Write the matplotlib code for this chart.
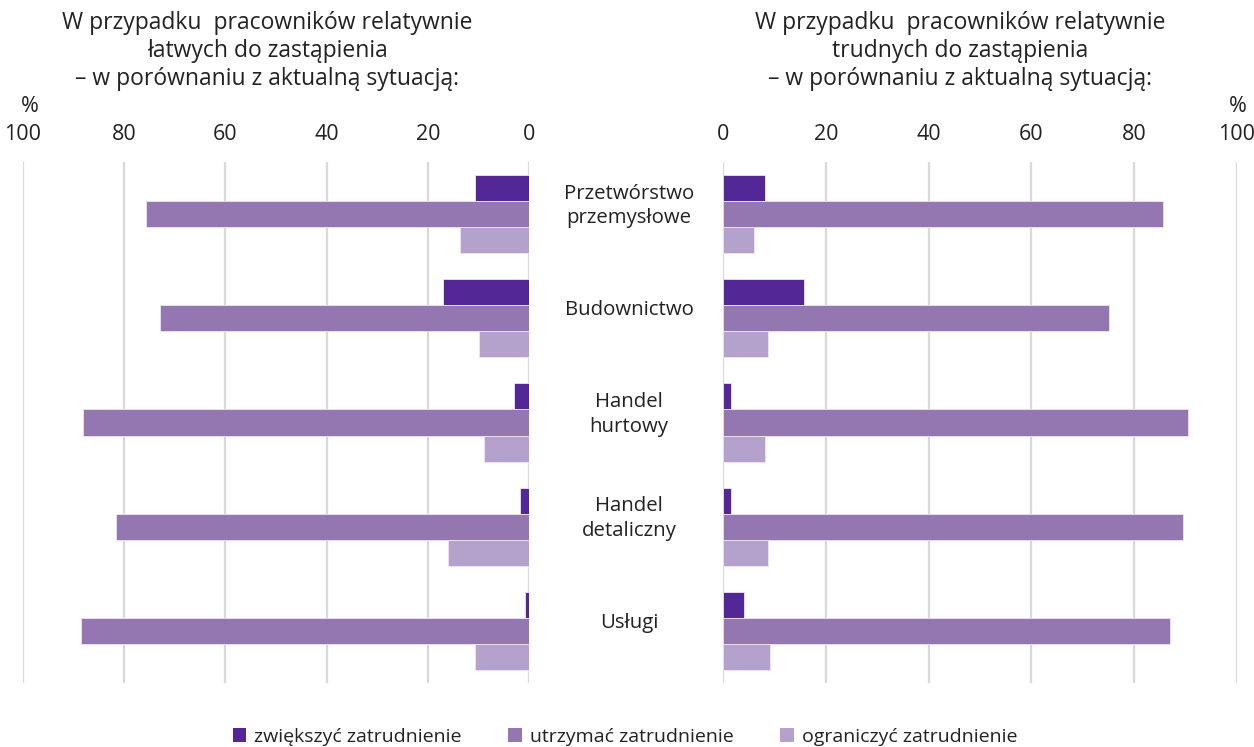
import matplotlib
matplotlib.use("Agg")
import matplotlib.pyplot as plt
from matplotlib.patches import Patch
import numpy as np

plt.rcParams['font.family'] = ['Open Sans', 'DejaVu Sans']

categories = ["Przetwórstwo\nprzemysłowe", "Budownictwo", "Handel\nhurtowy", "Handel\ndetaliczny", "Usługi"]
series_names = ["zwiększyć zatrudnienie", "utrzymać zatrudnienie", "ograniczyć zatrudnienie"]
colors = ["#532795", "#9476B1", "#B4A2CD"]

# left panel: relatively easy to replace
left_increase = [10.6, 17.0, 3.0, 1.7, 0.7]
left_keep = [75.6, 73.0, 88.1, 81.7, 88.5]
left_reduce = [13.6, 9.8, 8.8, 16.1, 10.6]

# right panel: relatively hard to replace
right_increase = [8.1, 15.8, 1.5, 1.5, 4.0]
right_keep = [85.7, 75.1, 90.5, 89.4, 86.9]
right_reduce = [6.0, 8.8, 8.1, 8.8, 9.1]

ticks = [0, 20, 40, 60, 80, 100]
title_left = "W przypadku  pracowników relatywnie\nłatwych do zastąpienia\n– w porównaniu z aktualną sytuacją:"
title_right = "W przypadku  pracowników relatywnie\ntrudnych do zastąpienia\n– w porównaniu z aktualną sytuacją:"

W, H = 1254, 747
fig = plt.figure(figsize=(W / 100, H / 100), dpi=100)

top_px, bot_px = 162, 683
axL = fig.add_axes([23 / W, 1 - bot_px / H, (529 - 23) / W, (bot_px - top_px) / H])
axR = fig.add_axes([723 / W, 1 - bot_px / H, (1237 - 723) / W, (bot_px - top_px) / H])

y = np.arange(len(categories))
bh = 0.25
offsets = [-bh, 0, bh]

for ax, data, inverted in [(axL, [left_increase, left_keep, left_reduce], True),
                           (axR, [right_increase, right_keep, right_reduce], False)]:
    for k, vals in enumerate(data):
        ax.barh(y + offsets[k], vals, height=bh, color=colors[k],
                edgecolor="#ece6f3", linewidth=0.6, zorder=3)
    ax.set_ylim(len(categories) - 0.5, -0.5)
    if inverted:
        ax.set_xlim(100, 0)
    else:
        ax.set_xlim(0, 100)
    ax.set_xticks(ticks)
    ax.set_xticklabels([str(t) for t in ticks])
    ax.xaxis.tick_top()
    ax.tick_params(axis='x', length=0, labelsize=15.5, colors="#222222", pad=12.5)
    ax.set_yticks([])
    for t in ticks:
        ax.axvline(t, color="#d9d9d9", lw=1.6, zorder=1)
    for s in ax.spines.values():
        s.set_visible(False)

for i, c in enumerate(categories):
    yc = 1 - (top_px + (i + 0.5) * (bot_px - top_px) / len(categories)) / H
    fig.text(629 / W, yc + 8 / H, c, ha="center", va="center", fontsize=14.7,
             color="#222222", linespacing=1.3)

fig.text(267 / W, 1 - 51 / H, title_left, ha="center", va="center", fontsize=16.5,
         color="#222222", linespacing=1.22)
fig.text(960 / W, 1 - 51 / H, title_right, ha="center", va="center", fontsize=16.5,
         color="#222222", linespacing=1.22)

fig.text(30 / W, 1 - 106 / H, "%", ha="center", va="center", fontsize=15.5, color="#222222")
fig.text(1238 / W, 1 - 106 / H, "%", ha="center", va="center", fontsize=15.5, color="#222222")

handles = [Patch(facecolor=colors[k], edgecolor="none") for k in range(3)]
fig.legend(handles, series_names, loc="center", bbox_to_anchor=(625 / W, 1 - 737 / H),
           ncol=3, frameon=False, fontsize=14, handlelength=0.7, handleheight=0.7,
           handletextpad=0.4, columnspacing=2.4, labelcolor="#222222")

fig.savefig("out.png", dpi=100)
